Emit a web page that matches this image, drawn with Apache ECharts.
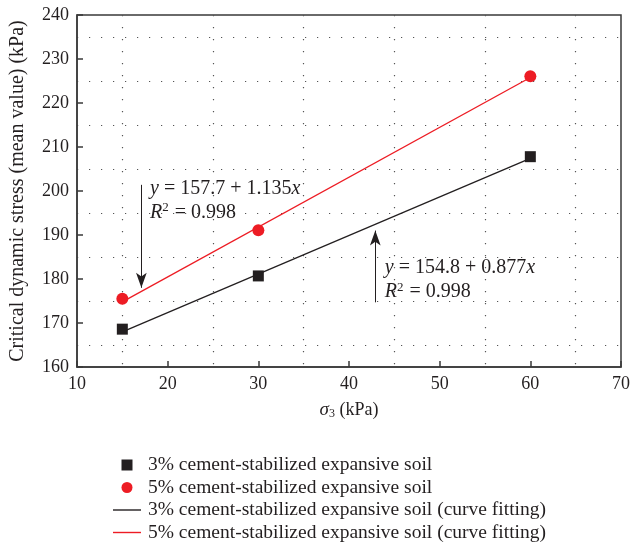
<!DOCTYPE html>
<html>
<head>
<meta charset="utf-8">
<script src="https://cdn.jsdelivr.net/npm/echarts@6/dist/echarts.min.js"></script>
<style>
  html, body { margin: 0; padding: 0; background: #fff; }
  #chart { width: 633px; height: 544px; }
</style>
</head>
<body>
<div id="chart"></div>
<script>
// measured points
const sigma3 = [15, 30, 60];
const soil3 = [168.6, 180.7, 207.8];
const soil5 = [175.5, 191.1, 226.1];
// fitted lines (end points)
const fitX = [15, 60];
const fit3 = [168.0, 207.4];
const fit5 = [174.8, 225.8];
// annotation arrows [from, to]
const arrow5 = [[17.1, 201.4], [17.1, 178.0]];
const arrow3 = [[42.9, 174.7], [42.9, 191.0]];
// equation text anchors
const eq5Pos = [[18.0, 200.5], [18.0, 195.0]];
const eq3Pos = [[43.9, 182.5], [43.9, 177.0]];
const eq5Text = ['{i|y} = 157.7 + 1.135{i|x}', '{i|R}{sup|2} = 0.998'];
const eq3Text = ['{i|y} = 154.8 + 0.877{i|x}', '{i|R}{sup|2} = 0.998'];

const names = [
  '3% cement-stabilized expansive soil',
  '5% cement-stabilized expansive soil',
  '3% cement-stabilized expansive soil (curve fitting)',
  '5% cement-stabilized expansive soil (curve fitting)'
];

const SERIF = '"Liberation Serif", "DejaVu Serif", serif';
const INK = '#231f20';
const RED = '#ed1c24';

const richEq = {
  i: { fontStyle: 'italic', fontFamily: SERIF, fontSize: 20, color: INK },
  sup: { fontFamily: SERIF, fontSize: 13, color: INK, padding: [0, 1, 10, 0] }
};

function eqPoints(pos, text) {
  return pos.map((p, k) => ({
    coord: p,
    label: { formatter: text[k] }
  }));
}

function markText(pos, text) {
  return {
    silent: true,
    symbol: 'circle',
    symbolSize: 1,
    itemStyle: { color: 'rgba(0,0,0,0)' },
    label: {
      show: true,
      position: 'right',
      distance: 0,
      fontFamily: SERIF,
      fontSize: 20,
      color: INK,
      rich: richEq
    },
    data: eqPoints(pos, text)
  };
}

function markArrow(a) {
  return {
    silent: true,
    symbol: ['none', 'arrow'],
    symbolSize: [8, 15],
    label: { show: false },
    lineStyle: { color: INK, width: 1, type: 'solid' },
    data: [[{ coord: a[0] }, { coord: a[1] }]]
  };
}

const axisLineStyle = { color: '#3a3a3a', width: 1.5 };
const minorGrid = {
  show: true,
  lineStyle: { color: '#555', width: 1.2, type: [1.2, 10.8] }
};

const squareIcon = 'path://M0,0h10v10h-10z';
const lineIcon = 'path://M0,0h28v1.4h-28z';

const chart = echarts.init(document.getElementById('chart'));
chart.setOption({
  animation: false,
  grid: {
    left: 75, right: 10, top: 15, bottom: 177,
    show: true, borderColor: '#3a3a3a', borderWidth: 1.5
  },
  legend: {
    orient: 'vertical',
    left: 108,
    top: 450,
    height: 120,
    itemWidth: 28,
    itemHeight: 11,
    itemGap: 2.5,
    textStyle: { fontFamily: SERIF, fontSize: 19.5, color: INK, padding: [0, 0, 0, 2] },
    data: [
      { name: names[0], icon: squareIcon },
      { name: names[1], icon: 'circle' },
      { name: names[2], icon: lineIcon },
      { name: names[3], icon: lineIcon }
    ]
  },
  xAxis: {
    type: 'value',
    min: 10, max: 70, interval: 10,
    name: '{s|σ}{sub|3} (kPa)',
    nameLocation: 'middle',
    nameGap: 33,
    nameTextStyle: {
      fontFamily: SERIF, fontSize: 18, color: INK,
      rich: {
        s: { fontStyle: 'italic', fontFamily: SERIF, fontSize: 19, color: INK },
        sub: { fontFamily: SERIF, fontSize: 12, color: INK, padding: [8, 0, 0, 0] }
      }
    },
    axisLine: { show: true, onZero: false, lineStyle: axisLineStyle },
    axisTick: { show: true, inside: true, length: 6, lineStyle: axisLineStyle },
    axisLabel: { fontFamily: SERIF, fontSize: 18, color: INK, margin: 8 },
    splitLine: { show: false },
    minorTick: { show: false, splitNumber: 2 },
    minorSplitLine: minorGrid
  },
  yAxis: {
    type: 'value',
    min: 160, max: 240, interval: 10,
    name: 'Critical dynamic stress (mean value) (kPa)',
    nameLocation: 'middle',
    nameGap: 49,
    nameTextStyle: { fontFamily: SERIF, fontSize: 20, color: INK },
    axisLine: { show: true, onZero: false, lineStyle: axisLineStyle },
    axisTick: { show: true, inside: true, length: 6, lineStyle: axisLineStyle },
    axisLabel: { fontFamily: SERIF, fontSize: 18, color: INK, margin: 8 },
    splitLine: { show: false },
    minorTick: { show: false, splitNumber: 2 },
    minorSplitLine: minorGrid
  },
  series: [
    {
      name: names[0],
      type: 'scatter',
      symbol: 'rect',
      symbolSize: 11,
      itemStyle: { color: INK, opacity: 1 },
      z: 5,
      data: sigma3.map((x, i) => [x, soil3[i]])
    },
    {
      name: names[1],
      type: 'scatter',
      symbol: 'circle',
      symbolSize: 12,
      itemStyle: { color: RED, opacity: 1 },
      z: 5,
      data: sigma3.map((x, i) => [x, soil5[i]])
    },
    {
      name: names[2],
      type: 'line',
      symbol: 'none',
      lineStyle: { color: INK, width: 1.3 },
      itemStyle: { color: INK },
      data: fitX.map((x, i) => [x, fit3[i]]),
      markLine: markArrow(arrow3),
      markPoint: markText(eq3Pos, eq3Text)
    },
    {
      name: names[3],
      type: 'line',
      symbol: 'none',
      lineStyle: { color: RED, width: 1.3 },
      itemStyle: { color: RED },
      data: fitX.map((x, i) => [x, fit5[i]]),
      markLine: markArrow(arrow5),
      markPoint: markText(eq5Pos, eq5Text)
    }
  ]
});
</script>
</body>
</html>
